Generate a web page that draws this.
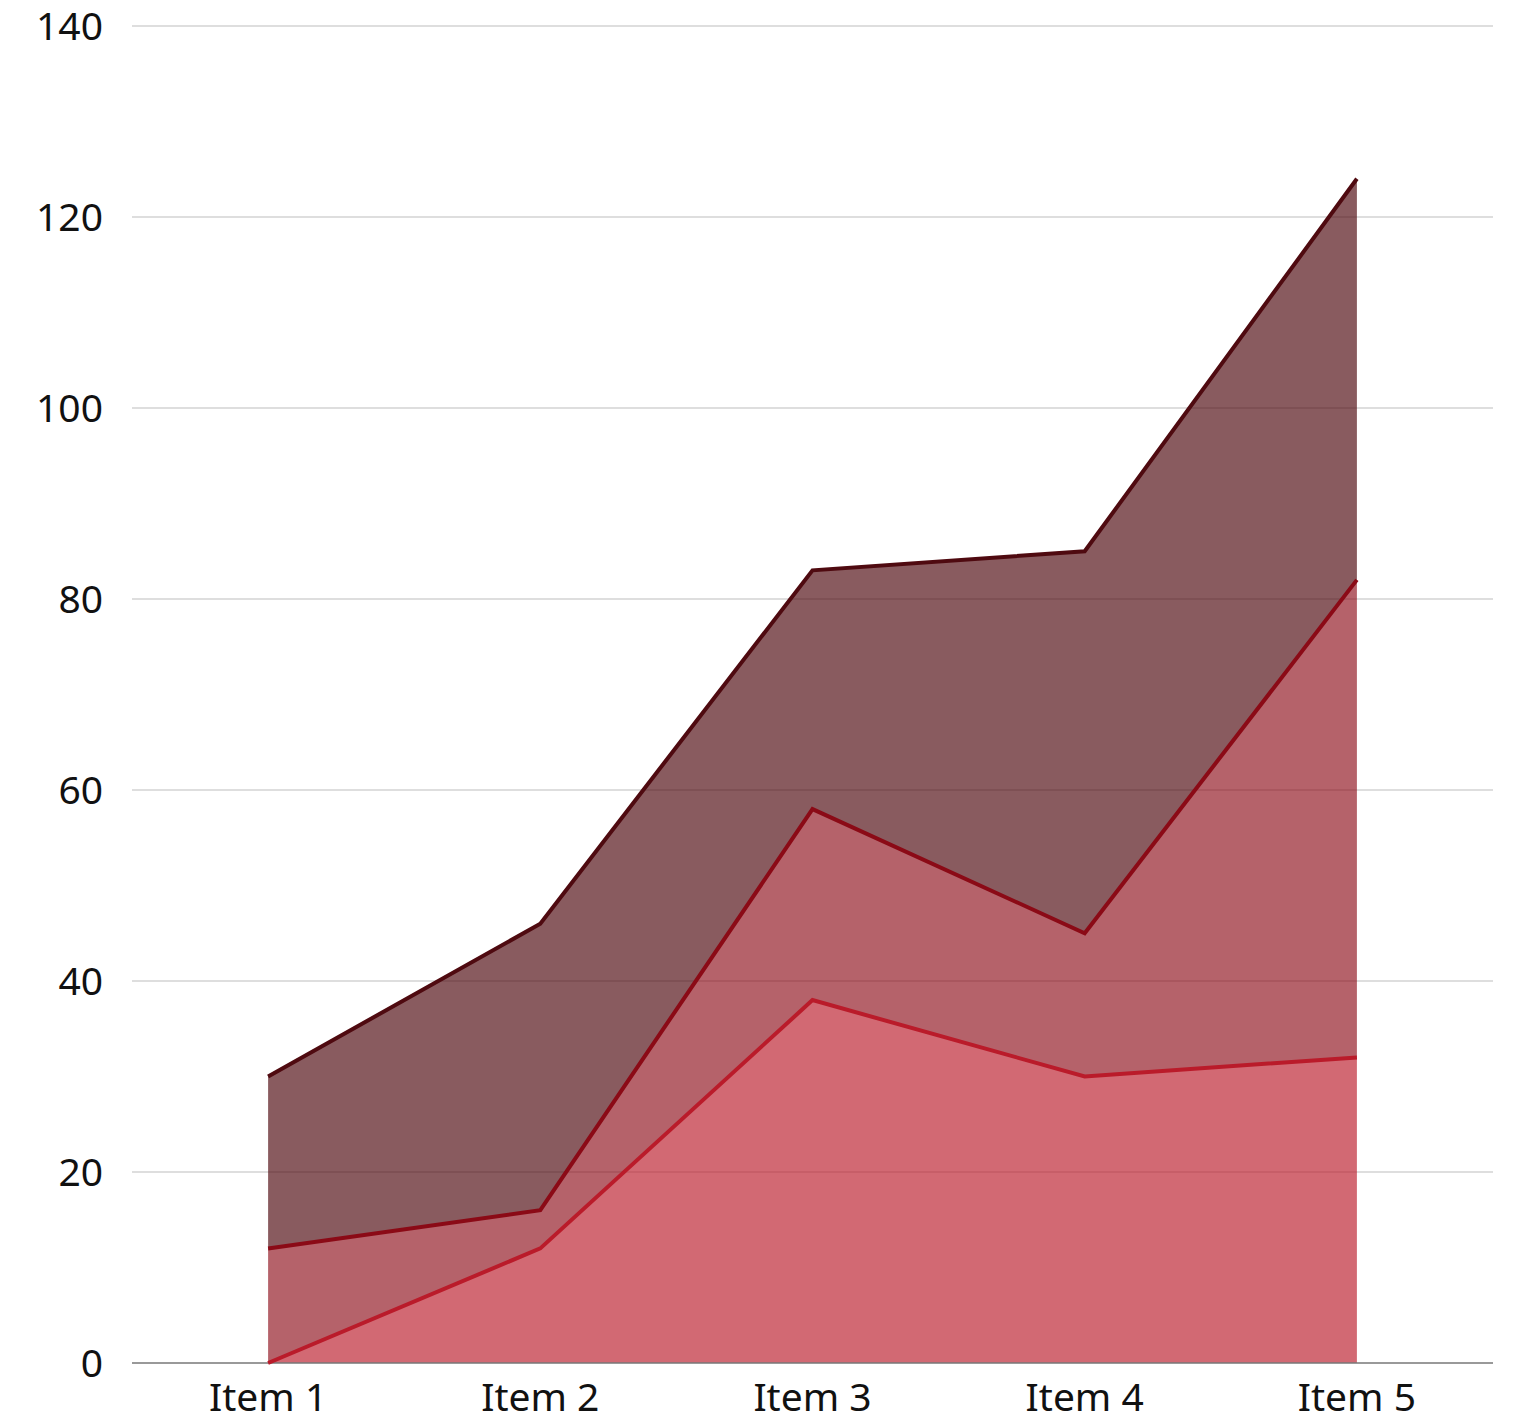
<!DOCTYPE html>
<html>
<head>
<meta charset="utf-8">
<script src="https://cdn.jsdelivr.net/npm/d3@7"></script>
<style>
  body { margin: 0; background: #fff; }
  text { font-family: "Noto Sans", Roboto, sans-serif; }
</style>
</head>
<body>
<script>
const width = 1515;
const height = 1418;

const categories = ["Item 1", "Item 2", "Item 3", "Item 4", "Item 5"];
const seriesA = [0, 12, 38, 30, 32];
const seriesB = [12, 4, 20, 15, 50];
const seriesC = [18, 30, 25, 40, 42];
const yTicks = [0, 20, 40, 60, 80, 100, 120, 140];

const colors = ["#ba1b2a", "#8b0a16", "#4f0a10"];
const opacities = [0.66, 0.64, 0.67];

const margin = { top: 26, right: 22, bottom: 55, left: 132 };

const rows = categories.map((c, i) => ({
  cat: c,
  a: seriesA[i],
  b: seriesB[i],
  c: seriesC[i],
}));

const stack = d3.stack().keys(["a", "b", "c"]);
const layers = stack(rows);

const svg = d3
  .select("body")
  .append("svg")
  .attr("width", width)
  .attr("height", height);

const x = d3
  .scaleBand()
  .domain(categories)
  .range([margin.left, width - margin.right]);

const y = d3
  .scaleLinear()
  .domain([0, 140])
  .range([height - margin.bottom, margin.top]);

const cx = (d) => x(d.data.cat) + x.bandwidth() / 2;

// grid lines
svg
  .append("g")
  .selectAll("line")
  .data(yTicks.slice(1))
  .join("line")
  .attr("x1", margin.left)
  .attr("x2", width - margin.right)
  .attr("y1", (d) => y(d))
  .attr("y2", (d) => y(d))
  .attr("stroke", "#bdbdbd")
  .attr("stroke-width", 1.2);

// y labels
svg
  .append("g")
  .selectAll("text")
  .data(yTicks)
  .join("text")
  .attr("x", 103)
  .attr("y", (d) => y(d) + 14)
  .attr("text-anchor", "end")
  .attr("font-size", 39)
  .attr("fill", "#111")
  .text((d) => d);

// areas
const area = d3
  .area()
  .x(cx)
  .y0((d) => y(d[0]))
  .y1((d) => y(d[1]));

svg
  .append("g")
  .selectAll("path")
  .data(layers)
  .join("path")
  .attr("d", area)
  .attr("fill", (d, i) => colors[i])
  .attr("fill-opacity", (d, i) => opacities[i]);

// baseline
svg
  .append("line")
  .attr("x1", margin.left)
  .attr("x2", width - margin.right)
  .attr("y1", y(0))
  .attr("y2", y(0))
  .attr("stroke", "#777")
  .attr("stroke-width", 1.5);

// top edge lines
const line = d3
  .line()
  .x(cx)
  .y((d) => y(d[1]));

svg
  .append("g")
  .selectAll("path")
  .data(layers)
  .join("path")
  .attr("d", line)
  .attr("fill", "none")
  .attr("stroke", (d, i) => colors[i])
  .attr("stroke-width", 4);

// x labels
svg
  .append("g")
  .selectAll("text")
  .data(categories)
  .join("text")
  .attr("x", (d) => x(d) + x.bandwidth() / 2)
  .attr("y", 1411)
  .attr("text-anchor", "middle")
  .attr("font-size", 39)
  .attr("fill", "#111")
  .text((d) => d);
</script>
</body>
</html>
